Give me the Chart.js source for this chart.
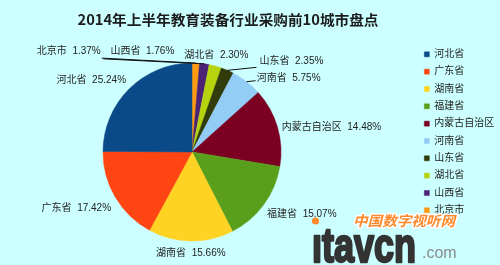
<!DOCTYPE html>
<html lang="zh-CN">
<head>
<meta charset="utf-8">
<title>2014年上半年教育装备行业采购前10城市盘点</title>
<script src="https://cdn.jsdelivr.net/npm/chart.js@4/dist/chart.umd.min.js"></script>
<style>
  html, body { margin: 0; padding: 0; background: #ccffff; overflow: hidden; }
  #frame { width: 500px; height: 265px; overflow: hidden; position: relative; }
  /* the canvas is wider than the frame; its left strip stays hidden so the pie can sit left of the legend */
  #wrap { position: absolute; left: -33px; top: 0; width: 533px; height: 265px; }
</style>
</head>
<body>
<div id="frame"><div id="wrap"><canvas id="pie"></canvas></div></div>
<script>
// Procurement share by province, listed clockwise from 12 o'clock
const regions = ['北京市', '山西省', '湖北省', '山东省', '河南省', '内蒙古自治区', '福建省', '湖南省', '广东省', '河北省'];
const shares = [1.37, 1.76, 2.30, 2.35, 5.75, 14.48, 15.07, 15.66, 17.42, 25.24];
const chartTitle = '2014年上半年教育装备行业采购前10城市盘点';

const palette = ['#ff9a12', '#4b2274', '#b6d30e', '#323c0b', '#93cdf6', '#7b0022', '#599f1b', '#ffd323', '#ff4612', '#0b4a88'];
const FONT = '"Liberation Sans", "Noto Sans CJK SC", sans-serif';
const STRIP = 33; // hidden canvas strip on the left

// label placement: offset of each label centre from the outer midpoint of its slice
const labelOffsets = [[-127, -12], [-62, -13], [1, -11], [64, -9], [42, -3], [54, 0], [38, 10], [0, 12], [-39, 11], [-38, -9]];
// leader lines: start point on the label (side, dx, dy) or null
const labelLeaders = [['right', 1, 7], ['left', -7, 8], null, ['left', -3, 6], ['left', -1, 2], null, null, null, null, null];

const backdrop = {
  id: 'backdrop',
  beforeDraw(chart) {
    const c = chart.ctx;
    c.save();
    c.fillStyle = '#ccffff';
    c.fillRect(0, 0, chart.width, chart.height);
    // title, centred at x = 228 of the visible frame
    c.translate(STRIP, 0);
    c.font = 'bold 14px "Noto Sans CJK SC", sans-serif';
    c.textBaseline = 'middle';
    c.textAlign = 'left';
    const tw = c.measureText(chartTitle).width;
    const sx = 301 / tw;
    c.translate(228 - 301 / 2, 20);
    c.scale(sx, 1);
    c.fillStyle = '#1c1c1c';
    c.fillText(chartTitle, 0, 0);
    c.restore();
  }
};

const sliceLabels = {
  id: 'sliceLabels',
  afterDatasetsDraw(chart) {
    const c = chart.ctx;
    const meta = chart.getDatasetMeta(0);
    c.save();
    c.font = '10px ' + FONT;
    c.textBaseline = 'middle';
    c.textAlign = 'center';
    c.strokeStyle = '#111';
    c.lineWidth = 1;
    meta.data.forEach((arc, i) => {
      const p = arc.getProps(['x', 'y', 'startAngle', 'endAngle', 'outerRadius'], true);
      const mid = (p.startAngle + p.endAngle) / 2;
      const ax = p.x + Math.cos(mid) * p.outerRadius;
      const ay = p.y + Math.sin(mid) * p.outerRadius;
      const lx = ax + labelOffsets[i][0];
      const ly = ay + labelOffsets[i][1];
      const text = regions[i] + '  ' + shares[i].toFixed(2) + '%';
      const w = c.measureText(text).width;
      const lead = labelLeaders[i];
      if (lead) {
        const sx = (lead[0] === 'right' ? lx + w / 2 : lx - w / 2) + lead[1];
        const sy = ly + lead[2];
        c.beginPath();
        c.moveTo(sx, sy);
        c.lineTo(ax, ay);
        c.stroke();
      }
      c.fillStyle = '#222';
      c.fillText(text, lx, ly);
    });
    c.restore();
  }
};

const siteMark = {
  id: 'siteMark',
  afterDraw(chart) {
    const c = chart.ctx;
    c.save();
    c.translate(STRIP, 0);
    c.textBaseline = 'alphabetic';
    c.textAlign = 'left';
    // orange site name
    c.save();
    c.font = 'italic bold 14px "Noto Sans CJK SC", sans-serif';
    c.lineJoin = 'round';
    c.strokeStyle = '#ffffff';
    c.lineWidth = 3;
    c.translate(353, 226);
    c.scale(102 / c.measureText('中国数字视听网').width, 1);
    c.strokeText('中国数字视听网', 0, 0);
    c.fillStyle = '#ff8a2e';
    c.fillText('中国数字视听网', 0, 0);
    c.restore();
    // domain, heavy condensed lettering
    c.save();
    c.font = 'bold 48px "Liberation Sans", sans-serif';
    c.translate(312, 262);
    c.scale(104 / c.measureText('ıtavcn').width, 1);
    c.fillStyle = '#333333';
    c.strokeStyle = '#333333';
    c.lineWidth = 2.5;
    c.lineJoin = 'round';
    c.strokeText('ıtavcn', 0, 0);
    c.fillText('ıtavcn', 0, 0);
    c.restore();
    c.fillStyle = '#ff8a2e';
    c.beginPath();
    c.arc(315.5, 221, 3.6, 0, Math.PI * 2);
    c.fill();
    c.font = '16px "Liberation Sans", sans-serif';
    c.fillStyle = '#8a8a8a';
    c.fillText('.com', 422, 258);
    c.restore();
  }
};

new Chart(document.getElementById('pie'), {
  type: 'pie',
  data: {
    labels: regions,
    datasets: [{
      data: shares,
      backgroundColor: palette,
      borderColor: palette,
      borderWidth: 0.5,
      hoverOffset: 0
    }]
  },
  options: {
    responsive: true,
    maintainAspectRatio: false,
    animation: false,
    radius: 89,
    layout: { padding: { left: 0, right: 0, top: 42, bottom: 3 } },
    plugins: {
      title: { display: false },
      legend: {
        position: 'right',
        align: 'start',
        reverse: true,
        maxWidth: 83,
        labels: {
          boxWidth: 5,
          boxHeight: 5,
          padding: 7.33,
          color: '#222',
          font: { size: 10, family: FONT }
        }
      },
      tooltip: { enabled: false }
    }
  },
  plugins: [backdrop, sliceLabels, siteMark]
});
</script>
</body>
</html>
